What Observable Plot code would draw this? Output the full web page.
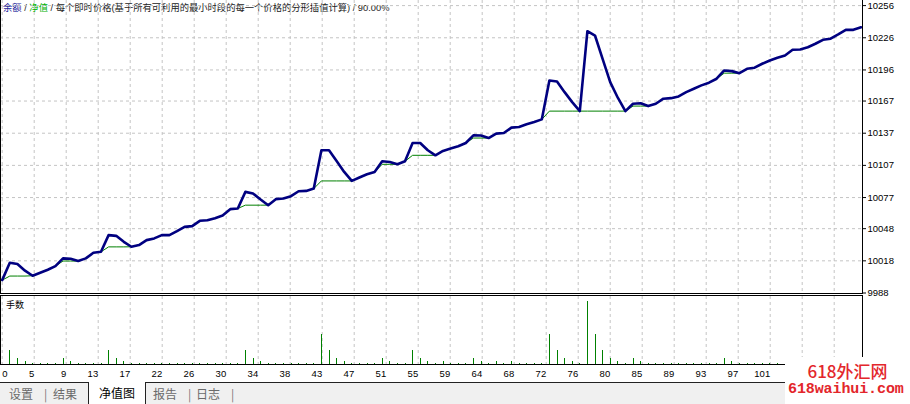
<!DOCTYPE html>
<html><head><meta charset="utf-8">
<script src="https://cdn.jsdelivr.net/npm/d3@7"></script>
<script src="https://cdn.jsdelivr.net/npm/@observablehq/plot@0.6"></script>
<style>
html,body{margin:0;padding:0;background:#fff;}
#wrap{position:relative;width:910px;height:404px;overflow:hidden;background:#fff;font-family:"Liberation Sans",Arial,sans-serif;}
#wrap svg{position:absolute;left:0;overflow:visible;}
.ln{position:absolute;background:#000;}
#legend{position:absolute;left:3px;top:1px;font-family:"Liberation Sans","Noto Sans CJK SC",sans-serif;font-size:9.3px;line-height:14px;color:#222;white-space:nowrap;}
#lots{position:absolute;left:6px;top:299px;font-family:"Noto Sans CJK SC",sans-serif;font-size:9px;line-height:12px;color:#000;}
#tabs{position:absolute;left:0;top:382px;width:910px;height:22px;background:#f0f0f0;border-top:1px solid #222;font-family:"Noto Sans CJK SC",sans-serif;font-size:12px;color:#6a6a6a;}
#tabs span{position:absolute;top:3px;line-height:16px;white-space:nowrap;}
#tabs .act{background:#fff;top:-1px;height:23px;line-height:22px;border-left:1px solid #222;border-right:1px solid #222;color:#000;text-align:center;}
#wm{position:absolute;left:785px;top:357px;width:125px;height:47px;background:#fff;color:#e3262b;text-align:center;}
#wm .a{position:absolute;left:0;width:125px;top:4px;font-family:"Noto Sans CJK SC",sans-serif;font-size:17px;line-height:20px;font-weight:500;}
#wm .b{position:absolute;left:3px;top:24px;font-family:"Liberation Mono",monospace;font-size:15px;line-height:18px;font-weight:bold;letter-spacing:-0.1px;}
</style></head>
<body>
<div id="wrap">
  <div id="legend"><span style="color:#1a1a9a">余额</span> / <span style="color:#00b000">净值</span> / 每个即时价格(基于所有可利用的最小时段的每一个价格的分形插值计算) / 90.00%</div>
</div>
<script>
// ---- data ----
const balance = [
 10000, 10016.2, 10015, 10008.8, 10004.1, 10006.9, 10009.7, 10013.1, 10020.3, 10019.9,
 10017.8, 10020.3, 10025.5, 10026.4, 10042, 10041.3, 10035.7, 10031.1, 10032.7, 10037.3,
 10038.9, 10042, 10042, 10045.7, 10049.7, 10050.4, 10055.3, 10055.9, 10057.8, 10060.2,
 10066.2, 10066.8, 10082.3, 10080.8, 10075.2, 10069.9, 10075.5, 10076.1, 10078.3, 10082.9,
 10083.2, 10085.4, 10121.1, 10121.1, 10111.1, 10100.9, 10092.5, 10095.7, 10098.7, 10100.9,
 10110.8, 10110.2, 10108, 10110.8, 10127.9, 10127.9, 10121.1, 10116.4, 10120.5, 10122.7,
 10124.8, 10127.9, 10135, 10134.8, 10132.5, 10136.6, 10137.2, 10142.2, 10142.8, 10145.3,
 10147.4, 10149.9, 10186.2, 10185.3, 10175.3, 10166, 10157.6, 10232.1, 10228.1, 10206.4,
 10184.6, 10170.1, 10157.6, 10164.5, 10165, 10162.3, 10164.5, 10169.2, 10169.7, 10171.3,
 10175.3, 10178.5, 10181.6, 10184.1, 10187.8, 10195.5, 10194.9, 10193, 10197.1, 10198.1,
 10201.8, 10204.8, 10207.3, 10209.5, 10214.8, 10215.1, 10217.2, 10220.4, 10224.1, 10225.1,
 10229.1, 10233.4, 10233.4, 10235.8
];
const equity = [
 10000, 10003.8, 10003.8, 10003.8, 10004.1, 10006.9, 10009.7, 10013.1, 10017.8, 10017.8,
 10017.8, 10020.3, 10025.5, 10026.4, 10031, 10031, 10031, 10031.1, 10032.7, 10037.3,
 10038.9, 10042, 10042, 10045.7, 10049.7, 10050.4, 10055.3, 10055.9, 10057.8, 10060.2,
 10066.2, 10066.8, 10069.9, 10069.9, 10069.9, 10069.9, 10075.5, 10076.1, 10078.3, 10082.9,
 10083.2, 10085.4, 10092.5, 10092.5, 10092.5, 10092.5, 10092.5, 10095.7, 10098.7, 10100.9,
 10108, 10108, 10108, 10110.8, 10116.4, 10116.4, 10116.4, 10116.4, 10120.5, 10122.7,
 10124.8, 10127.9, 10132.5, 10132.5, 10132.5, 10136.6, 10137.2, 10142.2, 10142.8, 10145.3,
 10147.4, 10149.9, 10157.6, 10157.6, 10157.6, 10157.6, 10157.6, 10157.6, 10157.6, 10157.6,
 10157.6, 10157.6, 10157.6, 10162.3, 10162.3, 10162.3, 10164.5, 10169.2, 10169.7, 10171.3,
 10175.3, 10178.5, 10181.6, 10184.1, 10187.8, 10193, 10193, 10193, 10197.1, 10198.1,
 10201.8, 10204.8, 10207.3, 10209.5, 10214.8, 10215.1, 10217.2, 10220.4, 10224.1, 10225.1,
 10229.1, 10233.4, 10233.4, 10235.8
];
const lots = [
 0, 0.14, 0.06, 0.03, 0.01, 0.01, 0.01, 0.01, 0.06, 0.03,
 0.01, 0.01, 0.01, 0.01, 0.14, 0.06, 0.03, 0.01, 0.01, 0.01,
 0.01, 0.01, 0.01, 0.01, 0.01, 0.01, 0.01, 0.01, 0.01, 0.01,
 0.01, 0.01, 0.14, 0.06, 0.03, 0.01, 0.01, 0.01, 0.01, 0.01,
 0.01, 0.01, 0.30, 0.14, 0.06, 0.03, 0.01, 0.01, 0.01, 0.01,
 0.06, 0.03, 0.01, 0.01, 0.14, 0.06, 0.03, 0.01, 0.03, 0.01,
 0.01, 0.01, 0.06, 0.03, 0.01, 0.03, 0.01, 0.03, 0.01, 0.01,
 0.01, 0.01, 0.30, 0.14, 0.06, 0.03, 0.01, 0.64, 0.30, 0.14,
 0.06, 0.03, 0.01, 0.06, 0.03, 0.01, 0.01, 0.01, 0.01, 0.01,
 0.01, 0.01, 0.01, 0.01, 0.01, 0.06, 0.03, 0.01, 0.01, 0.01,
 0.01, 0.01, 0.01, 0.01, 0.01, 0.01, 0.01, 0.01, 0.01, 0.01,
 0.01, 0.01, 0.01, 0.01
];
const yTicks = [9988, 10018, 10048, 10077, 10107, 10137, 10167, 10196, 10226, 10256];
const xTickLabels = ["0","5","9","13","17","22","26","30","34","38","43","47","51","55","59","64","68","72","76","80","85","89","93","97","101"];
const tabLabels = ["设置", "结果", "净值图", "报告", "日志"];

// ---- layout helpers ----
const N = balance.length;
const X_RANGE = [1.7, 860.5];
const TRADES_PER_GRID = 4.2105;
const gridPos = d3.range(27).map(k => k * TRADES_PER_GRID);
const balRows = balance.map((v, i) => ({i, v}));
const eqRows = equity.map((v, i) => ({i, v}));
const lotRows = lots.map((v, i) => ({i, v})).filter(d => d.v > 0);
const gridStyle = {stroke: "#c4c4c4", strokeOpacity: 1, strokeDasharray: "3,3", strokeWidth: 1};
const baseStyle = {background: "transparent", fontFamily: "'Liberation Sans', Arial, sans-serif", fontSize: "9.5px", color: "#000", overflow: "visible"};

const wrap = document.getElementById("wrap");

const main = Plot.plot({
  width: 910, height: 296,
  marginLeft: 0, marginRight: 48, marginTop: 0, marginBottom: 3,
  x: {domain: [0, N - 1], range: X_RANGE, axis: null},
  y: {domain: [9988, 10256], range: [292.5, 5.1], axis: null},
  style: baseStyle,
  marks: [
    Plot.gridX(gridPos, gridStyle),
    Plot.gridY(yTicks.slice(1), gridStyle),
    Plot.line(eqRows, {x: "i", y: "v", stroke: "#008000", strokeWidth: 1}),
    Plot.line(balRows, {x: "i", y: "v", stroke: "#000080", strokeWidth: 2.6, strokeLinejoin: "round"}),
    Plot.axisY(yTicks, {anchor: "right", tickSize: 3, tickPadding: 2, tickFormat: d => String(d), label: null})
  ]
});
main.style.top = "0px";
wrap.appendChild(main);

const vol = Plot.plot({
  width: 910, height: 88,
  marginLeft: 0, marginRight: 48, marginTop: 2, marginBottom: 18,
  x: {domain: [0, N - 1], range: X_RANGE, axis: null},
  y: {domain: [0, 0.64], range: [70.3, 6.7], axis: null},
  style: baseStyle,
  marks: [
    Plot.gridX(gridPos, gridStyle),
    Plot.ruleX(lotRows, {x: "i", y: "v", stroke: "#008000", strokeWidth: 1, shapeRendering: "crispEdges"}),
    Plot.text(xTickLabels.slice(0, 1), {x: 0, frameAnchor: "bottom", dy: 9.3, textAnchor: "start", lineAnchor: "middle", fill: "#000"}),
    Plot.text(xTickLabels.slice(1), {x: (d, k) => (k + 1) * TRADES_PER_GRID, frameAnchor: "bottom", dy: 9.3, textAnchor: "end", lineAnchor: "middle", fill: "#000"})
  ]
});
vol.style.top = "294px";
wrap.appendChild(vol);

// panel borders
function line(l, t, w, h) { const d = document.createElement("div"); d.className = "ln"; Object.assign(d.style, {left: l + "px", top: t + "px", width: w + "px", height: h + "px"}); wrap.appendChild(d); }
line(0, 0, 1, 294);      // main left
line(862, 0, 1, 294);    // main right
line(0, 293, 863, 1);    // main bottom
line(0, 295, 863, 1);    // volume top
line(0, 295, 1, 70);     // volume left
line(862, 295, 1, 70);   // volume right
line(0, 364, 863, 1);    // volume baseline

const lotsLbl = document.createElement("div");
lotsLbl.id = "lots"; lotsLbl.textContent = "手数"; wrap.appendChild(lotsLbl);

// tabs
const tabs = document.createElement("div"); tabs.id = "tabs";
const tabPos = [[9, null], [53, null], [88, 56], [153, null], [196, null]];
tabLabels.forEach((t, k) => {
  const s = document.createElement("span");
  s.textContent = t;
  s.style.left = tabPos[k][0] + "px";
  if (k === 2) { s.className = "act"; s.style.width = tabPos[k][1] + "px"; }
  tabs.appendChild(s);
});
[44, 188, 231].forEach(x => { const s = document.createElement("span"); s.textContent = "|"; s.style.left = x + "px"; s.style.color = "#777"; tabs.appendChild(s); });
wrap.appendChild(tabs);

// watermark
const wm = document.createElement("div"); wm.id = "wm";
wm.innerHTML = '<div class="a">618外汇网</div><div class="b">618waihui.com</div>';
wrap.appendChild(wm);
</script>
</body></html>
